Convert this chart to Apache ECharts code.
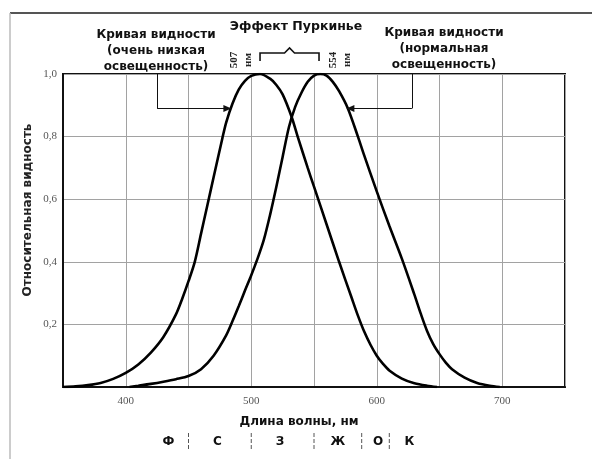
<!DOCTYPE html>
<html>
<head>
<meta charset="utf-8">
<script src="https://cdn.jsdelivr.net/npm/echarts@6/dist/echarts.min.js"></script>
<style>
html, body { margin: 0; padding: 0; background: #fff; }
#c { width: 592px; height: 459px; }
</style>
</head>
<body>
<div id="c"></div>
<script>
// Scotopic (night) visibility curve, peak near 507 nm
const scotopicWl = [350, 360, 370, 380, 390, 400, 410, 420, 430, 440, 445, 450, 455, 460, 465, 470, 477, 480, 485, 490, 495, 500, 507, 515, 520, 525, 532, 537, 545, 550, 560, 570, 580, 585, 590, 595, 600, 605, 610, 620, 630, 640, 648];
const scotopicV  = [0, 0.002, 0.006, 0.013, 0.026, 0.045, 0.072, 0.11, 0.16, 0.232, 0.282, 0.338, 0.40, 0.49, 0.58, 0.67, 0.795, 0.845, 0.905, 0.95, 0.978, 0.994, 1.0, 0.985, 0.965, 0.935, 0.865, 0.80, 0.70, 0.64, 0.52, 0.40, 0.285, 0.228, 0.177, 0.135, 0.10, 0.074, 0.053, 0.027, 0.012, 0.004, 0];

// Photopic (daylight) visibility curve, peak near 554 nm
const photopicWl = [403, 410, 420, 430, 440, 450, 460, 470, 480, 485, 490, 495, 500, 505, 510, 515, 520, 525, 530, 535, 540, 545, 550, 555, 560, 565, 570, 577, 585, 590, 600, 610, 620, 630, 635, 640, 645, 650, 655, 660, 670, 680, 690, 698];
const photopicV  = [0, 0.004, 0.01, 0.017, 0.025, 0.035, 0.057, 0.10, 0.165, 0.21, 0.258, 0.308, 0.357, 0.41, 0.47, 0.55, 0.64, 0.735, 0.83, 0.895, 0.94, 0.975, 0.995, 1.0, 0.995, 0.975, 0.945, 0.89, 0.80, 0.74, 0.625, 0.515, 0.41, 0.295, 0.235, 0.18, 0.137, 0.105, 0.078, 0.057, 0.03, 0.013, 0.004, 0];

const xTickLabels = [400, 500, 600, 700];
const yTickLabels = ['', '0,2', '0,4', '0,6', '0,8', '1,0'];

// Peak markers shown above the plot
const peakWl = [507, 554];
const peakText = ['507', '554'];

// Colour band letters under the wavelength axis
const bandNames = ['Ф', 'С', 'З', 'Ж', 'О', 'К'];
const bandCenters = [434, 473, 523, 569, 601, 626];
const bandEdges = [450, 500, 550, 588, 610];

// Leader arrows from the curve captions: [x of vertical stem, y level, arrow tip x]
const scotopicLeader = [425, 0.89, 481];
const photopicLeader = [628, 0.89, 579];

function pairs(xs, ys) { return xs.map((x, i) => [x, ys[i]]); }

function leader(l) {
  return [
    [{ coord: [l[0], 1.0], symbol: 'none' }, { coord: [l[0], l[1]], symbol: 'none' }],
    [{ coord: [l[0], l[1]], symbol: 'none' }, { coord: [l[2], l[1]], symbol: 'triangle', symbolSize: [7, 8] }]
  ];
}

const chart = echarts.init(document.getElementById('c'), null, { renderer: 'canvas' });

const boldFont = 'DejaVu Sans';
const numFont = 'Liberation Serif';

chart.setOption({
  animation: false,
  backgroundColor: '#fff',
  grid: { left: 63, right: 27, top: 74, bottom: 72, show: true, borderColor: '#111', borderWidth: 2, backgroundColor: 'transparent' },
  xAxis: {
    type: 'value', min: 350, max: 750, interval: 50,
    axisLine: { show: true, lineStyle: { color: '#111', width: 2 } },
    axisTick: { show: false },
    axisLabel: {
      margin: 9, color: '#555', fontFamily: numFont, fontSize: 11,
      formatter: v => xTickLabels.includes(v) ? String(v) : ''
    },
    splitLine: { show: true, lineStyle: { color: '#a2a2a2', width: 1 } }
  },
  yAxis: {
    type: 'value', min: 0, max: 1, interval: 0.2,
    axisLine: { show: true, lineStyle: { color: '#111', width: 2 } },
    axisTick: { show: false },
    axisLabel: {
      margin: 6, color: '#555', fontFamily: numFont, fontSize: 11,
      formatter: v => yTickLabels[Math.round(v * 5)]
    },
    splitLine: { show: true, lineStyle: { color: '#a2a2a2', width: 1 } }
  },
  series: [
    {
      name: 'scotopic', type: 'line', data: pairs(scotopicWl, scotopicV),
      smooth: 0.3, showSymbol: false, symbol: 'none',
      lineStyle: { color: '#000', width: 2.6 },
      markLine: {
        silent: true, animation: false, label: { show: false },
        lineStyle: { color: '#111', width: 1, type: 'solid' },
        data: leader(scotopicLeader)
      }
    },
    {
      name: 'photopic', type: 'line', data: pairs(photopicWl, photopicV),
      smooth: 0.3, showSymbol: false, symbol: 'none',
      lineStyle: { color: '#000', width: 2.6 },
      markLine: {
        silent: true, animation: false, label: { show: false },
        lineStyle: { color: '#111', width: 1, type: 'solid' },
        data: leader(photopicLeader)
      }
    }
  ]
});

function px(x, y) { return chart.convertToPixel({ gridIndex: 0 }, [x, y]); }

const g = [];

// Page frame
g.push({ type: 'line', shape: { x1: 10, y1: 13, x2: 592, y2: 13 }, style: { stroke: '#555', lineWidth: 2 } });
g.push({ type: 'line', shape: { x1: 10, y1: 13, x2: 10, y2: 459 }, style: { stroke: '#bbb', lineWidth: 1.5 } });

// Vertical axis title
g.push({ type: 'text', x: 28, y: 210, rotation: Math.PI / 2, style: { text: 'Относительная видность', font: 'bold 12px "' + boldFont + '"', fill: '#222', align: 'center', verticalAlign: 'middle' } });

// Headings and curve captions
g.push({ type: 'text', x: 296, y: 27, style: { text: 'Эффект Пуркинье', font: 'bold 12.5px "' + boldFont + '"', fill: '#111', align: 'center', verticalAlign: 'middle' } });
g.push({ type: 'text', x: 156, y: 51, style: { text: 'Кривая видности\n(очень низкая\nосвещенность)', font: 'bold 12px "' + boldFont + '"', lineHeight: 16, fill: '#111', align: 'center', verticalAlign: 'middle' } });
g.push({ type: 'text', x: 444, y: 49, style: { text: 'Кривая видности\n(нормальная\nосвещенность)', font: 'bold 12px "' + boldFont + '"', lineHeight: 16, fill: '#111', align: 'center', verticalAlign: 'middle' } });

// Purkinje bracket between the two peaks
const pA = px(peakWl[0], 1), pB = px(peakWl[1], 1);
const mid = (pA[0] + pB[0]) / 2;
g.push({ type: 'polyline', shape: { points: [[pA[0], 61], [pA[0], 53], [mid - 5, 53], [mid, 48], [mid + 5, 53], [pB[0], 53], [pB[0], 61]] }, style: { stroke: '#111', lineWidth: 1.6, fill: null } });

// Peak wavelength labels, turned on their side
g.push({ type: 'text', x: pA[0] - 19, y: 60, rotation: Math.PI / 2, style: { text: peakText[0] + '\nнм', font: 'bold 11px "' + numFont + '"', lineHeight: 14, fill: '#222', align: 'center', verticalAlign: 'middle' } });
g.push({ type: 'text', x: pB[0] + 21, y: 60, rotation: Math.PI / 2, style: { text: peakText[1] + '\nнм', font: 'bold 11px "' + numFont + '"', lineHeight: 14, fill: '#222', align: 'center', verticalAlign: 'middle' } });

// Axis title under the wavelength scale
g.push({ type: 'text', x: 299, y: 422, style: { text: 'Длина волны, нм', font: 'bold 12px "' + boldFont + '"', fill: '#111', align: 'center', verticalAlign: 'middle' } });

// Colour band letters and separators
bandNames.forEach((n, i) => {
  const p = px(bandCenters[i], 0);
  g.push({ type: 'text', x: p[0], y: 442, style: { text: n, font: 'bold 12px "' + boldFont + '"', fill: '#111', align: 'center', verticalAlign: 'middle' } });
});
bandEdges.forEach(e => {
  const p = px(e, 0);
  g.push({ type: 'line', shape: { x1: p[0], y1: 433, x2: p[0], y2: 451 }, style: { stroke: '#555', lineWidth: 1, lineDash: [4, 2] } });
});

chart.setOption({ graphic: g });
</script>
</body>
</html>
